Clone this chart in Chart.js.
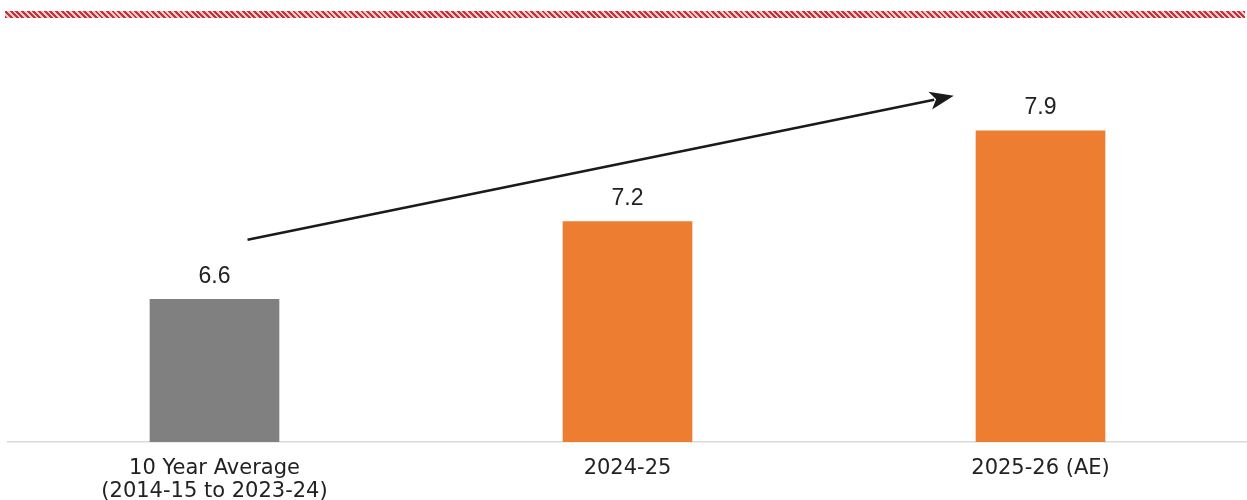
<!DOCTYPE html>
<html>
<head>
<meta charset="utf-8">
<script src="https://cdn.jsdelivr.net/npm/chart.js@4"></script>
<style>
    html, body { margin: 0; padding: 0; background: #ffffff; }
    #wrap { position: relative; width: 1247px; height: 500px; }
    #hatch {
        position: absolute; left: 5px; right: 2px; top: 11px; height: 7px;
        background: repeating-linear-gradient(45deg, #c4323a 0px, #c4323a 2px, #f1c9cb 2px, #f1c9cb 4px);
    }
    canvas { position: absolute; left: 0; top: 0; }
</style>
</head>
<body>
<div id="wrap">
    <div id="hatch"></div>
    <canvas id="growthChart" width="1247" height="500"></canvas>
</div>
<script>
// Chart data
const categories = [['10 Year Average', '(2014-15 to 2023-24)'], '2024-25', '2025-26 (AE)'];
const growthValues = [6.6, 7.2, 7.9];
const barColors = ['#808080', '#ED7D31', '#ED7D31'];

// Trend arrow, in data space (category index, value)
const arrowFrom = { x: 0.08, y: 7.06 };
const arrowTo = { x: 1.79, y: 8.17 };

// Value labels above the bars
const valueLabels = {
    id: 'valueLabels',
    afterDatasetsDraw(chart) {
        const ctx = chart.ctx;
        const meta = chart.getDatasetMeta(0);
        ctx.save();
        ctx.font = '23px "Liberation Sans", Arial, sans-serif';
        ctx.fillStyle = '#222222';
        ctx.textAlign = 'center';
        ctx.textBaseline = 'middle';
        meta.data.forEach((bar, i) => {
            ctx.fillText(growthValues[i].toFixed(1), bar.x, bar.y - 23);
        });
        ctx.restore();
    }
};

// Arrow from the average bar up to the estimate
const trendArrow = {
    id: 'trendArrow',
    afterDatasetsDraw(chart) {
        const ctx = chart.ctx;
        const xs = chart.scales.x, ys = chart.scales.y;
        const x1 = xs.getPixelForValue(arrowFrom.x), y1 = ys.getPixelForValue(arrowFrom.y);
        const x2 = xs.getPixelForValue(arrowTo.x), y2 = ys.getPixelForValue(arrowTo.y);
        const ang = Math.atan2(y2 - y1, x2 - x1);
        const headLen = 24, headW = 9;
        ctx.save();
        ctx.strokeStyle = '#1a1a1a';
        ctx.fillStyle = '#1a1a1a';
        ctx.lineWidth = 2.5;
        ctx.beginPath();
        ctx.moveTo(x1, y1);
        ctx.lineTo(x2 - Math.cos(ang) * (headLen - 4), y2 - Math.sin(ang) * (headLen - 4));
        ctx.stroke();
        ctx.translate(x2, y2);
        ctx.rotate(ang);
        ctx.beginPath();
        ctx.moveTo(0, 0);
        ctx.lineTo(-headLen, -headW);
        ctx.lineTo(-headLen + 6, 0);
        ctx.lineTo(-headLen, headW);
        ctx.closePath();
        ctx.fill();
        ctx.restore();
    }
};

const ctx = document.getElementById('growthChart').getContext('2d');
new Chart(ctx, {
    type: 'bar',
    data: {
        labels: categories,
        datasets: [{
            data: growthValues,
            backgroundColor: barColors,
            borderWidth: 0,
            barThickness: 129
        }]
    },
    options: {
        responsive: false,
        animation: false,
        events: [],
        layout: {
            padding: { top: 40, left: 8, right: 0, bottom: -10 }
        },
        plugins: {
            legend: { display: false },
            tooltip: { enabled: false }
        },
        scales: {
            x: {
                grid: { display: false },
                border: { color: '#d9d9d9', width: 1.5 },
                ticks: {
                    color: '#222222',
                    padding: 6,
                    maxRotation: 0,
                    font: { family: '"DejaVu Sans", sans-serif', size: 21, lineHeight: 1.14 }
                }
            },
            y: {
                display: false,
                min: 5.5,
                max: 8.6
            }
        }
    },
    plugins: [valueLabels, trendArrow]
});
</script>
</body>
</html>
